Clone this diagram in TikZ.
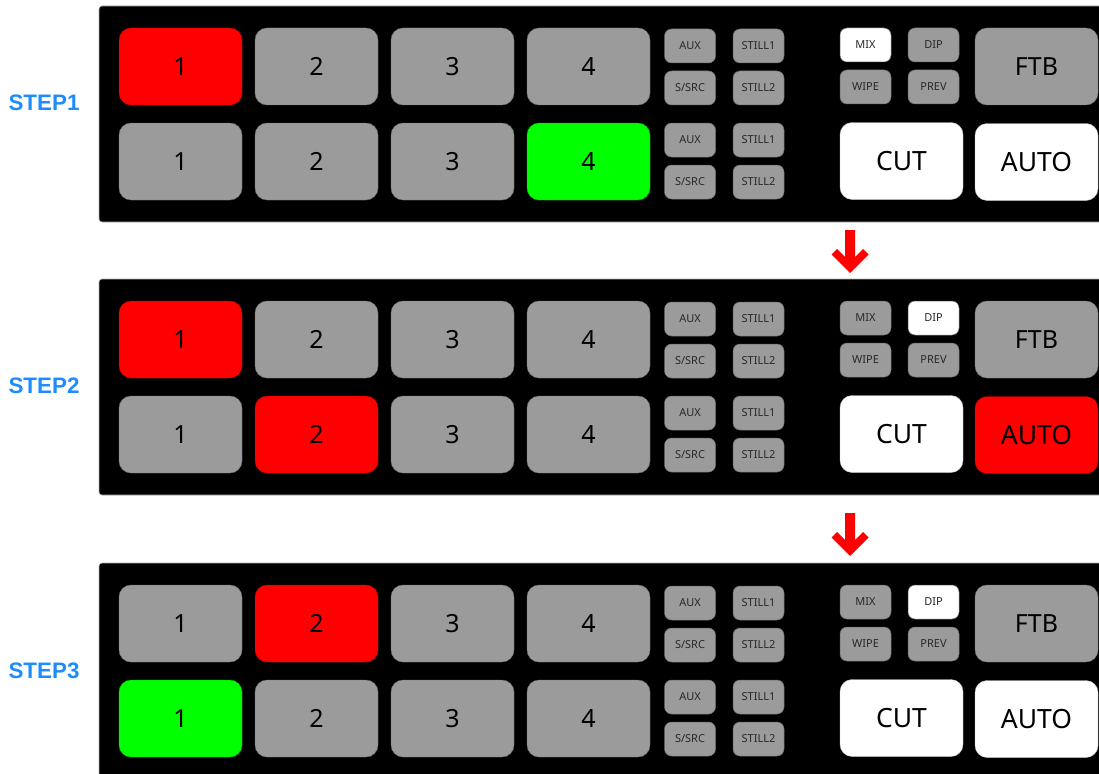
\documentclass[tikz,border=0pt]{standalone}
\usepackage{fontspec}
\setmainfont{Noto Sans}
\newfontfamily\stepfont{Liberation Sans}
\usepackage{xcolor}
\usetikzlibrary{arrows.meta}
\definecolor{keygray}{RGB}{155,155,155}
\definecolor{keyred}{RGB}{255,0,0}
\definecolor{keygreen}{RGB}{0,255,0}
\definecolor{stepblue}{RGB}{30,140,255}
\definecolor{keytext}{RGB}{40,40,40}

\begin{document}
\begin{tikzpicture}[x=1pt,y=-1pt,
  panel/.style={fill=black,draw=gray!60,line width=0.6pt,rounded corners=3pt},
  bigkey/.style={rounded corners=12pt,minimum width=123pt,minimum height=77pt,inner sep=0pt,font=\fontsize{25}{25}\selectfont},
  smallkey/.style={rounded corners=7pt,minimum width=51pt,minimum height=34pt,inner sep=0pt,font=\fontsize{11}{11}\selectfont,text=keytext,fill=keygray,draw=keygray!70!black,line width=0.5pt},
  bigword/.style={font=\fontsize{26.5}{26.5}\selectfont},
  steplabel/.style={font=\stepfont\bfseries\fontsize{22.4}{22.4}\selectfont,text=stepblue},
  stepdown/.style={fill=keyred}]
  \useasboundingbox (0,0) rectangle (1099,773);
  \clip (0,0) rectangle (1099,773);
  % one panel per step: offset, label y, top row, bottom row, MIX, DIP, AUTO
  \foreach \n/\oy/\ly/\tA/\tB/\tC/\tD/\bA/\bB/\bC/\bD/\mixc/\dipc/\autoc in {
    1/0/103/keyred/keygray/keygray/keygray/keygray/keygray/keygray/keygreen/white/keygray/white,
    2/273/386/keyred/keygray/keygray/keygray/keygray/keyred/keygray/keygray/keygray/white/keyred,
    3/557/671/keygray/keyred/keygray/keygray/keygreen/keygray/keygray/keygray/keygray/white/white}{
    \begin{scope}[yshift=-\oy pt]
      \draw[panel] (99,6) rectangle (1110,222);
      \foreach \k/\cx/\tc/\bc in {1/180.5/\tA/\bA,2/316.5/\tB/\bB,3/452.5/\tC/\bC,4/588.5/\tD/\bD}{
        \node[bigkey,fill=\tc,draw=\tc!75!black] (p\n-t\k) at (\cx,66.5) {\k};
        \node[bigkey,fill=\bc,draw=\bc!75!black] (p\n-b\k) at (\cx,161.5) {\k};
      }
      \node[smallkey] (p\n-aux1) at (690,46) {AUX};
      \node[smallkey] (p\n-src1) at (690,88) {S/SRC};
      \node[smallkey] (p\n-sta1) at (758.5,46) {STILL1};
      \node[smallkey] (p\n-stb1) at (758.5,88) {STILL2};
      \node[smallkey] (p\n-aux2) at (690,140) {AUX};
      \node[smallkey] (p\n-src2) at (690,182) {S/SRC};
      \node[smallkey] (p\n-sta2) at (758.5,140) {STILL1};
      \node[smallkey] (p\n-stb2) at (758.5,182) {STILL2};
      \node[smallkey,fill=\mixc] (p\n-mix) at (865.5,45) {MIX};
      \node[smallkey,fill=\dipc] (p\n-dip) at (933.5,45) {DIP};
      \node[smallkey] (p\n-wipe) at (865.5,87) {WIPE};
      \node[smallkey] (p\n-prev) at (933.5,87) {PREV};
      \node[bigkey,fill=keygray,draw=keygray!75!black] (p\n-ftb) at (1036.5,66.5) {FTB};
      \node[bigkey,bigword,fill=white,draw=gray!50] (p\n-cut) at (901.5,161) {CUT};
      \node[bigkey,bigword,fill=\autoc,draw=\autoc!75!black] (p\n-auto) at (1036.5,162) {AUTO};
    \end{scope}
    \node[steplabel] (step\n) at (44,\ly) {STEP\n};
  }
  % arrows between the steps
  \foreach \ay in {230,513}{
    \fill[stepdown] (845,\ay) -- (855,\ay) -- (855,\ay+27) -- (863,\ay+19) -- (868.5,\ay+24.5)
      -- (850,\ay+43) -- (831.5,\ay+24.5) -- (837,\ay+19) -- (845,\ay+27) -- cycle;
  }
\end{tikzpicture}
\end{document}
